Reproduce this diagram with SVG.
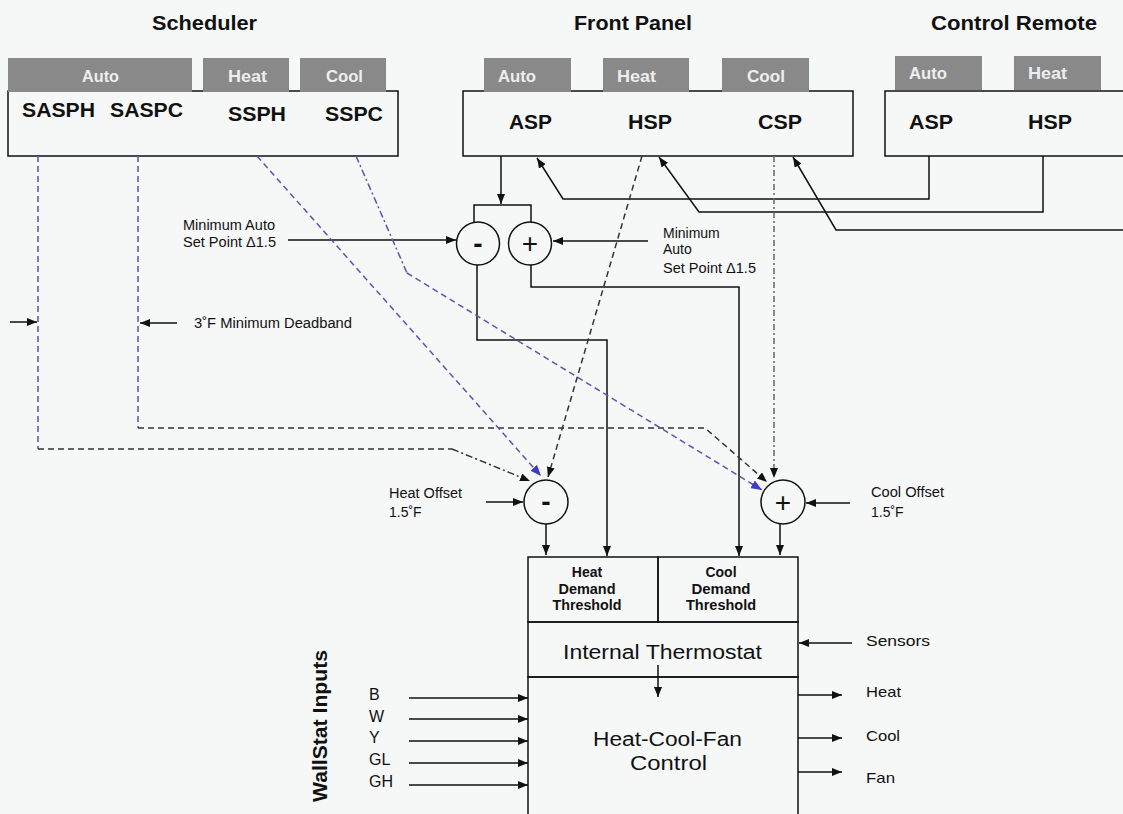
<svg xmlns="http://www.w3.org/2000/svg" width="1123" height="814" viewBox="0 0 1123 814">
<style>
text{font-family:"Liberation Sans",Arial,sans-serif;fill:#111}
.title{font-size:21px;font-weight:bold}
.tab{fill:#898989}
.tabt{font-size:16.5px;font-weight:bold;fill:#eeeeee}
.big{font-size:20px;font-weight:bold}
.sm{font-size:14px}
.md{font-size:15px}
.box{fill:none;stroke:#111;stroke-width:1.5}
.ln{fill:none;stroke:#111;stroke-width:1.5}
.db{fill:none;stroke:#5656b6;stroke-width:1.5;stroke-dasharray:6 4}
.ddb{fill:none;stroke:#5656b6;stroke-width:1.5;stroke-dasharray:7 3 2 3}
.dk{fill:none;stroke:#333;stroke-width:1.5;stroke-dasharray:6 4}
.ddk{fill:none;stroke:#333;stroke-width:1.5;stroke-dasharray:7 3 2 3}
.ddg{fill:none;stroke:#666;stroke-width:1.5;stroke-dasharray:6 3 2 3}
.circ{fill:#f6f7f7;stroke:#111;stroke-width:1.5}
.sign{font-size:28px;text-anchor:middle}
.thr{font-size:14px;font-weight:bold;text-anchor:middle}
</style>
<defs>
<marker id="ak" viewBox="0 0 10 8" refX="10" refY="4" markerWidth="10" markerHeight="8" markerUnits="userSpaceOnUse" orient="auto"><path d="M0,0 L10,4 L0,8 z" fill="#111" stroke="none"/></marker>
<marker id="ab" viewBox="0 0 10 8" refX="10" refY="4" markerWidth="11" markerHeight="9" markerUnits="userSpaceOnUse" orient="auto"><path d="M0,0 L10,4 L0,8 z" fill="#3c3cc8" stroke="none"/></marker>
</defs>
<rect x="0" y="0" width="1123" height="814" fill="#f6f7f7"/>

<g id="scheduler">
<text class="title" x="152" y="30" textLength="105" lengthAdjust="spacingAndGlyphs">Scheduler</text>
<rect class="box" x="8" y="91" width="390" height="65" fill="#f6f7f7"/>
<rect class="tab" x="8" y="58" width="184" height="34"/>
<rect class="tab" x="203" y="58" width="86" height="34"/>
<rect class="tab" x="300" y="58" width="86" height="34"/>
<text class="tabt" x="82" y="82" textLength="37" lengthAdjust="spacingAndGlyphs">Auto</text>
<text class="tabt" x="228" y="82" textLength="39" lengthAdjust="spacingAndGlyphs">Heat</text>
<text class="tabt" x="326" y="82" textLength="37" lengthAdjust="spacingAndGlyphs">Cool</text>
<text class="big" x="22" y="117" textLength="73" lengthAdjust="spacingAndGlyphs">SASPH</text>
<text class="big" x="110" y="117" textLength="73" lengthAdjust="spacingAndGlyphs">SASPC</text>
<text class="big" x="228" y="121" textLength="58" lengthAdjust="spacingAndGlyphs">SSPH</text>
<text class="big" x="325" y="121" textLength="58" lengthAdjust="spacingAndGlyphs">SSPC</text>
</g>

<g id="front-panel">
<text class="title" x="574" y="30" textLength="118" lengthAdjust="spacingAndGlyphs">Front Panel</text>
<rect class="box" x="463" y="91" width="390" height="65" fill="#f6f7f7"/>
<rect class="tab" x="484" y="58" width="87" height="34"/>
<rect class="tab" x="603" y="58" width="86" height="34"/>
<rect class="tab" x="722" y="58" width="87" height="34"/>
<text class="tabt" x="498" y="82" textLength="38" lengthAdjust="spacingAndGlyphs">Auto</text>
<text class="tabt" x="617" y="82" textLength="39" lengthAdjust="spacingAndGlyphs">Heat</text>
<text class="tabt" x="747" y="82" textLength="38" lengthAdjust="spacingAndGlyphs">Cool</text>
<text class="big" x="509" y="129" textLength="43" lengthAdjust="spacingAndGlyphs">ASP</text>
<text class="big" x="628" y="129" textLength="44" lengthAdjust="spacingAndGlyphs">HSP</text>
<text class="big" x="758" y="129" textLength="44" lengthAdjust="spacingAndGlyphs">CSP</text>
</g>

<g id="control-remote">
<text class="title" x="931" y="30" textLength="166" lengthAdjust="spacingAndGlyphs">Control Remote</text>
<rect class="box" x="885" y="91" width="260" height="65" fill="#f6f7f7"/>
<rect class="tab" x="895" y="56" width="87" height="34"/>
<rect class="tab" x="1014" y="56" width="87" height="34"/>
<text class="tabt" x="909" y="79" textLength="38" lengthAdjust="spacingAndGlyphs">Auto</text>
<text class="tabt" x="1028" y="79" textLength="39" lengthAdjust="spacingAndGlyphs">Heat</text>
<text class="big" x="909" y="129" textLength="44" lengthAdjust="spacingAndGlyphs">ASP</text>
<text class="big" x="1028" y="129" textLength="44" lengthAdjust="spacingAndGlyphs">HSP</text>
</g>

<g id="connectors">
<path class="ln" d="M929,156 V199 H563 L537,158" marker-end="url(#ak)"/>
<path class="ln" d="M1043,156 V212 H699 L659,157" marker-end="url(#ak)"/>
<path class="ln" d="M1123,230 H836 L793,157" marker-end="url(#ak)"/>
<path class="ln" d="M501,156 V204" marker-end="url(#ak)"/>
<path class="ln" d="M474,222 V205 H531 V222"/>
<path class="ln" d="M288,240 H456" marker-end="url(#ak)"/>
<path class="ln" d="M648,241 H553" marker-end="url(#ak)"/>
<path class="ln" d="M477,265 V340 H607 V556" marker-end="url(#ak)"/>
<path class="ln" d="M531,265 V287 H739 V556" marker-end="url(#ak)"/>
<path class="db" d="M38,156 V449"/>
<path class="dk" d="M38,449 H452"/>
<path class="ddk" d="M452,449 L530,481" marker-end="url(#ak)"/>
<path class="db" d="M138,156 V428"/>
<path class="dk" d="M138,428 H705 L767,482" marker-end="url(#ak)"/>
<path class="db" d="M257,156 L541,476" marker-end="url(#ab)"/>
<path class="ddb" d="M356,156 L407,273"/>
<path class="db" d="M407,273 L762,490" marker-end="url(#ab)"/>
<path class="dk" d="M642,156 L548,477" marker-end="url(#ak)"/>
<path class="ddg" d="M774,156 V478" marker-end="url(#ak)"/>
<path class="ln" d="M10,322 H37" marker-end="url(#ak)"/>
<path class="ln" d="M177,323 H140" marker-end="url(#ak)"/>
<path class="ln" d="M486,502 H523" marker-end="url(#ak)"/>
<path class="ln" d="M850,503 H806" marker-end="url(#ak)"/>
<path class="ln" d="M546,524 V555" marker-end="url(#ak)"/>
<path class="ln" d="M780,524 V555" marker-end="url(#ak)"/>
<path class="ln" d="M852,643 H799" marker-end="url(#ak)"/>
<path class="ln" d="M798,695 H842" marker-end="url(#ak)"/>
<path class="ln" d="M798,738 H842" marker-end="url(#ak)"/>
<path class="ln" d="M798,772 H842" marker-end="url(#ak)"/>
<path class="ln" d="M658,665 V697" marker-end="url(#ak)"/>
<path class="ln" d="M409,698 H528" marker-end="url(#ak)"/>
<path class="ln" d="M409,719 H528" marker-end="url(#ak)"/>
<path class="ln" d="M409,741 H528" marker-end="url(#ak)"/>
<path class="ln" d="M409,763 H528" marker-end="url(#ak)"/>
<path class="ln" d="M409,785 H528" marker-end="url(#ak)"/>
</g>

<g id="labels">
<text class="sm" x="183" y="230" textLength="92" lengthAdjust="spacingAndGlyphs">Minimum Auto</text>
<text class="sm" x="183" y="247" textLength="93" lengthAdjust="spacingAndGlyphs">Set Point Δ1.5</text>
<text class="sm" x="663" y="238">Minimum</text>
<text class="sm" x="663" y="254">Auto</text>
<text class="sm" x="663" y="273" textLength="93" lengthAdjust="spacingAndGlyphs">Set Point Δ1.5</text>
<text class="sm" x="194" y="328" textLength="158" lengthAdjust="spacingAndGlyphs">3˚F Minimum Deadband</text>
<text class="sm" x="389" y="498" textLength="73" lengthAdjust="spacingAndGlyphs">Heat Offset</text>
<text class="sm" x="389" y="517">1.5˚F</text>
<text class="sm" x="871" y="497" textLength="73" lengthAdjust="spacingAndGlyphs">Cool Offset</text>
<text class="sm" x="871" y="517">1.5˚F</text>
<text class="md" x="866" y="646" textLength="64" lengthAdjust="spacingAndGlyphs">Sensors</text>
<text class="md" x="866" y="697" textLength="35" lengthAdjust="spacingAndGlyphs">Heat</text>
<text class="md" x="866" y="741" textLength="34" lengthAdjust="spacingAndGlyphs">Cool</text>
<text class="md" x="866" y="783" textLength="29" lengthAdjust="spacingAndGlyphs">Fan</text>
<text style="font-size:20px;font-weight:bold;text-anchor:middle" transform="translate(327,726) rotate(-90)" textLength="152" lengthAdjust="spacingAndGlyphs">WallStat Inputs</text>
<text style="font-size:16px" x="369" y="700">B</text>
<text style="font-size:16px" x="369" y="722">W</text>
<text style="font-size:16px" x="369" y="743">Y</text>
<text style="font-size:16px" x="369" y="765">GL</text>
<text style="font-size:16px" x="369" y="787">GH</text>
</g>

<g id="auto-minus">
<circle class="circ" cx="478" cy="243.5" r="21.5"/>
<text class="sign" x="478" y="253" style="font-weight:bold">-</text>
</g>
<g id="auto-plus">
<circle class="circ" cx="530" cy="243.5" r="21.5"/>
<text class="sign" x="530" y="253">+</text>
</g>
<g id="heat-minus">
<circle class="circ" cx="546" cy="502" r="22"/>
<text class="sign" x="546" y="511" style="font-weight:bold">-</text>
</g>
<g id="cool-plus">
<circle class="circ" cx="783" cy="502" r="22"/>
<text class="sign" x="783" y="512">+</text>
</g>

<g id="heat-demand-threshold">
<rect class="box" x="528" y="557" width="130" height="65"/>
<text class="thr" x="587" y="577">Heat</text>
<text class="thr" x="587" y="594" textLength="57" lengthAdjust="spacingAndGlyphs">Demand</text>
<text class="thr" x="587" y="610" textLength="69" lengthAdjust="spacingAndGlyphs">Threshold</text>
</g>
<g id="cool-demand-threshold">
<rect class="box" x="658" y="557" width="140" height="65"/>
<text class="thr" x="721" y="577">Cool</text>
<text class="thr" x="721" y="594" textLength="59" lengthAdjust="spacingAndGlyphs">Demand</text>
<text class="thr" x="721" y="610" textLength="70" lengthAdjust="spacingAndGlyphs">Threshold</text>
</g>
<g id="internal-thermostat">
<rect class="box" x="528" y="622" width="270" height="55"/>
<text style="font-size:20px;text-anchor:middle" x="662.5" y="659" textLength="199" lengthAdjust="spacingAndGlyphs">Internal Thermostat</text>
</g>
<g id="heat-cool-fan-control">
<path class="box" d="M528,820 V677 H798 V820"/>
<text style="font-size:20px;text-anchor:middle" x="667.5" y="746" textLength="149" lengthAdjust="spacingAndGlyphs">Heat-Cool-Fan</text>
<text style="font-size:20px;text-anchor:middle" x="668.5" y="770" textLength="77" lengthAdjust="spacingAndGlyphs">Control</text>
</g>
</svg>
